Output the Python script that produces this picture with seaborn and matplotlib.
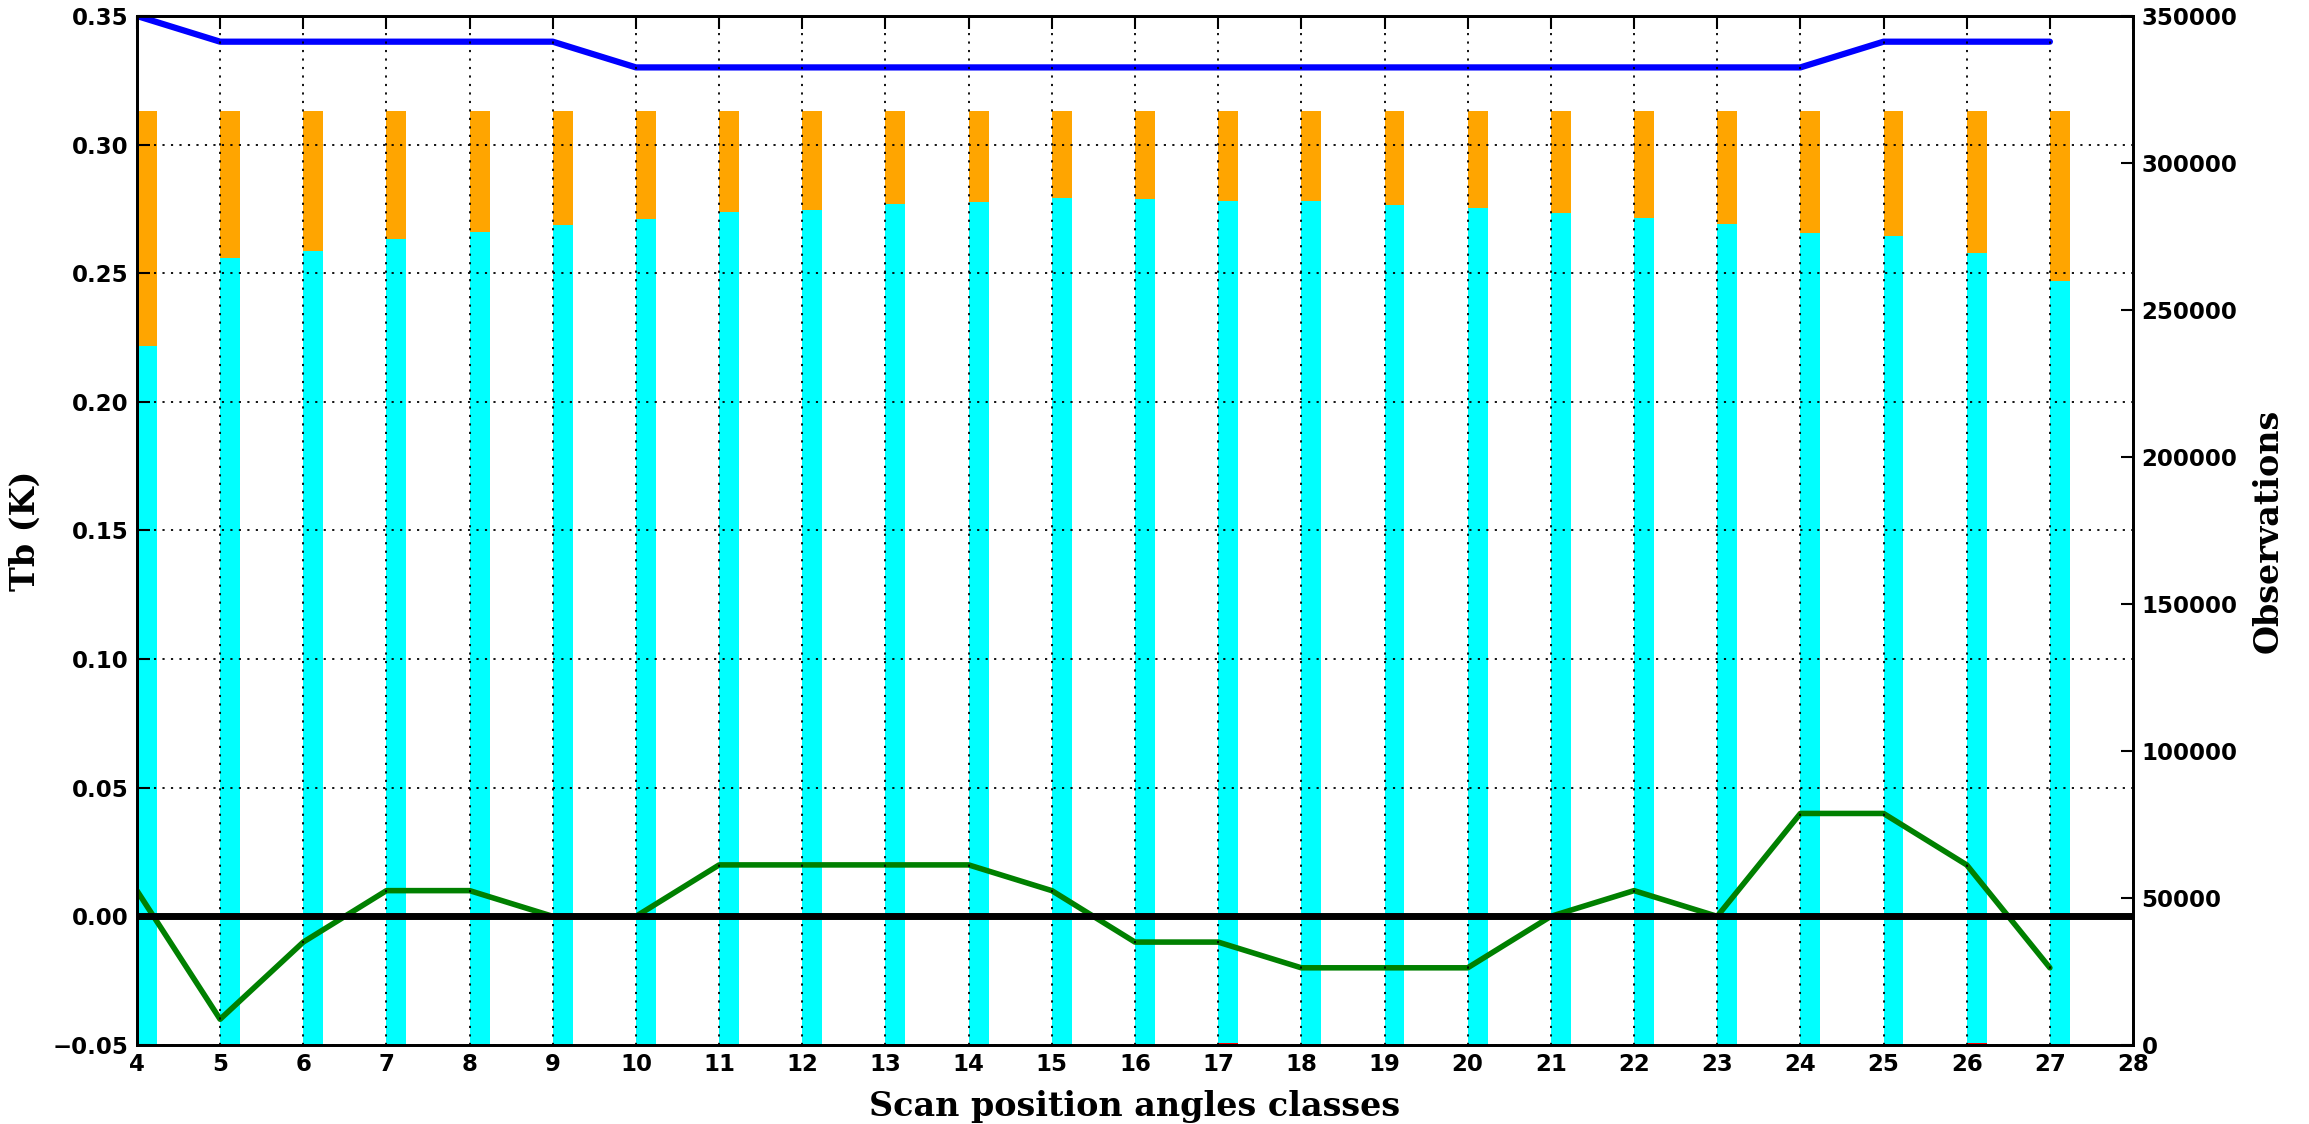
import matplotlib
matplotlib.use("Agg")
import matplotlib.pyplot as plt
import seaborn as sns
from matplotlib.ticker import MultipleLocator

# Style: white background, inward ticks, black text
sns.set_style("white")
plt.rcParams['font.family'] = ['DejaVu Sans']
plt.rcParams['font.weight'] = 'bold'
plt.rcParams['xtick.direction'] = 'in'
plt.rcParams['ytick.direction'] = 'in'
plt.rcParams['text.color'] = 'black'
plt.rcParams['axes.labelcolor'] = 'black'
plt.rcParams['xtick.color'] = 'black'
plt.rcParams['ytick.color'] = 'black'

# Data
classes = list(range(4, 28))
tb_std = [0.35, 0.34, 0.34, 0.34, 0.34, 0.34, 0.33, 0.33, 0.33, 0.33, 0.33, 0.33,
          0.33, 0.33, 0.33, 0.33, 0.33, 0.33, 0.33, 0.33, 0.33, 0.34, 0.34, 0.34]
tb_bias = [0.01, -0.04, -0.01, 0.01, 0.01, 0.00, 0.00, 0.02, 0.02, 0.02, 0.02, 0.01,
           -0.01, -0.01, -0.02, -0.02, -0.02, 0.00, 0.01, 0.00, 0.04, 0.04, 0.02, -0.02]
obs_total = [317700] * 24
obs_used = [237900, 267600, 270100, 274200, 276600, 279000, 281000, 283400,
            284100, 286100, 286700, 288200, 287900, 287200, 287200, 285700,
            284800, 283000, 281300, 279300, 276200, 275300, 269300, 260000]
obs_rejected = [0, 0, 0, 0, 0, 0, 0, 0, 0, 0, 0, 0,
                0, 600, 0, 0, 0, 0, 0, 0, 0, 0, 600, 0]

fig = plt.figure(figsize=(23.09, 11.24), dpi=100)
ax1 = fig.add_axes([0.0593, 0.0703, 0.8645, 0.9155])
ax2 = ax1.twinx()

# Bars on the observations axis
bar_w = 0.24
ax2.bar(classes, obs_total, width=bar_w, align='edge', color='orange', linewidth=0)
ax2.bar(classes, obs_used, width=bar_w, align='edge', color='cyan', linewidth=0)
ax2.bar(classes, obs_rejected, width=bar_w, align='edge', color='red', linewidth=0)

# Lines on the Tb axis, drawn above the bars
ax1.set_zorder(ax2.get_zorder() + 1)
ax1.patch.set_visible(False)
sns.lineplot(x=classes, y=tb_std, ax=ax1, color='blue', linewidth=4.5)
sns.lineplot(x=classes, y=tb_bias, ax=ax1, color='green', linewidth=4)
ax1.axhline(0, color='black', linewidth=5)

ax1.set_xlim(4, 28)
ax1.set_ylim(-0.05, 0.35)
ax2.set_ylim(0, 350000)
ax1.xaxis.set_major_locator(MultipleLocator(1))
ax1.yaxis.set_major_locator(MultipleLocator(0.05))
ax2.yaxis.set_major_locator(MultipleLocator(50000))

ax1.grid(True, color='black', linestyle=(0, (1.2, 3.5)), linewidth=1.3)
ax1.set_axisbelow(False)

ax1.tick_params(axis='both', which='major', labelsize=16.5, length=9, width=1.5,
                top=True, pad=6)
ax2.tick_params(axis='y', labelsize=16.5, length=9, width=1.5, pad=6)

for ax in (ax1, ax2):
    for sp in ax.spines.values():
        sp.set_linewidth(2)
        sp.set_color('black')

ax1.set_xlabel('Scan position angles classes', family='DejaVu Serif',
               fontsize=24, fontweight='bold', labelpad=10)
ax1.set_ylabel('Tb (K)', family='DejaVu Serif', fontsize=24, fontweight='bold',
               labelpad=8)
ax2.set_ylabel('Observations', family='DejaVu Serif', fontsize=24, fontweight='bold',
               labelpad=10)

fig.savefig('out.png', dpi=100)
